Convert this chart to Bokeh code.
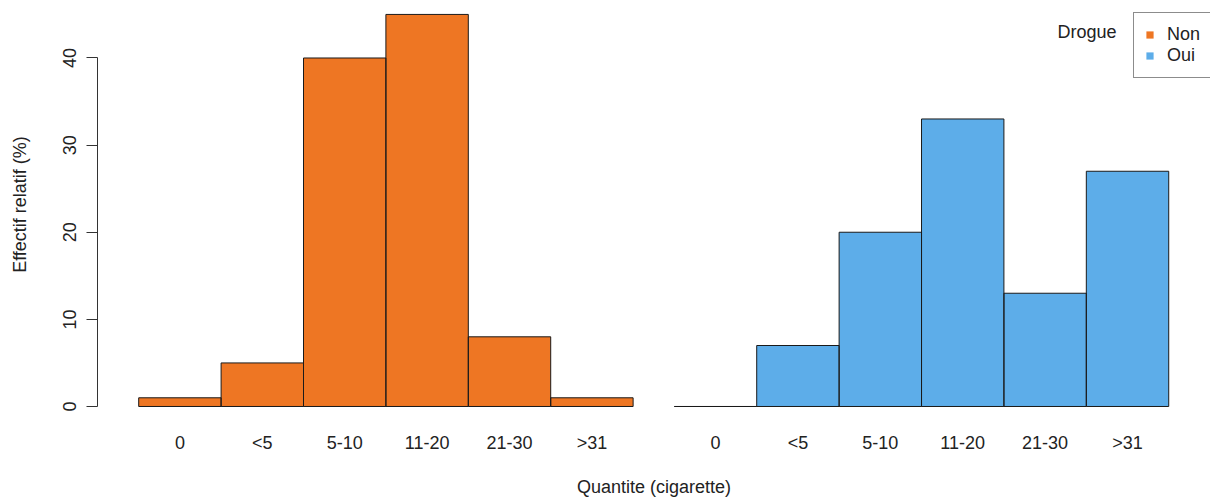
from bokeh.plotting import figure
from bokeh.models import Range1d, FixedTicker, Legend, LegendItem, Label, ColumnDataSource
from bokeh.embed import file_html
from bokeh.resources import INLINE

# ---- data ----
categories = ["0", "<5", "5-10", "11-20", "21-30", ">31"]
non_values = [1, 5, 40, 45, 8, 1]
oui_values = [0, 7, 20, 33, 13, 27]
groups = ["Non", "Oui"]
y_ticks = [0, 10, 20, 30, 40]

ORANGE = "#EE7623"
BLUE = "#5DADE9"
EDGE = "#1a1a1a"
TXT = "#222222"
FONT = "Liberation Sans"
FS = "18px"

GAP = 6.5  # offset of the second panel, in bar widths
x_non = [i for i in range(len(categories))]
x_oui = [i + GAP for i in range(len(categories))]

p = figure(width=1210, height=501, output_backend="svg", toolbar_location=None,
           x_range=Range1d(-1.0, 12.507), y_range=Range1d(-0.2296, 46.599),
           min_border_left=97, min_border_right=0, min_border_top=0,
           min_border_bottom=93)
p.outline_line_color = None
p.xgrid.visible = False
p.ygrid.visible = False
p.background_fill_color = "white"
p.border_fill_color = "white"

src_non = ColumnDataSource(dict(x=x_non, top=non_values))
src_oui = ColumnDataSource(dict(x=x_oui, top=oui_values))
# fills (also used as legend glyphs, without outline)
f_non = p.vbar(x="x", top="top", bottom=0, width=1, source=src_non,
               fill_color=ORANGE, line_alpha=0)
f_oui = p.vbar(x="x", top="top", bottom=0, width=1, source=src_oui,
               fill_color=BLUE, line_alpha=0)
# outlines
p.vbar(x="x", top="top", bottom=0, width=1, source=src_non,
       fill_alpha=0, line_color=EDGE, line_width=1)
p.vbar(x="x", top="top", bottom=0, width=1, source=src_oui,
       fill_alpha=0, line_color=EDGE, line_width=1)

# x axis
xa = p.xaxis[0]
xa.ticker = FixedTicker(ticks=x_non + x_oui)
overrides = {}
for xv, c in zip(x_non, categories):
    overrides[xv] = c
for xv, c in zip(x_oui, categories):
    overrides[xv] = c
xa.major_label_overrides = overrides
xa.axis_line_color = None
xa.major_tick_line_color = None
xa.minor_tick_line_color = None
xa.major_label_standoff = 18
xa.major_label_text_font = FONT
xa.major_label_text_font_size = FS
xa.major_label_text_color = TXT
xa.axis_label = "Quantite (cigarette)"
xa.axis_label_standoff = 21
xa.axis_label_text_font = FONT
xa.axis_label_text_font_size = FS
xa.axis_label_text_font_style = "normal"
xa.axis_label_text_color = TXT

# y axis
ya = p.yaxis[0]
ya.ticker = FixedTicker(ticks=y_ticks)
ya.bounds = (y_ticks[0], y_ticks[-1])
ya.major_label_orientation = "vertical"
ya.major_tick_out = 11
ya.major_tick_in = 0
ya.minor_tick_line_color = None
ya.axis_line_color = "#333333"
ya.major_tick_line_color = "#333333"
ya.major_label_standoff = 10
ya.major_label_text_font = FONT
ya.major_label_text_font_size = FS
ya.major_label_text_color = TXT
ya.axis_label = "Effectif relatif (%)"
ya.axis_label_standoff = 31
ya.axis_label_text_font = FONT
ya.axis_label_text_font_size = FS
ya.axis_label_text_font_style = "normal"
ya.axis_label_text_color = TXT

legend = Legend(items=[LegendItem(label=groups[0], renderers=[f_non]),
                       LegendItem(label=groups[1], renderers=[f_oui])],
                location=(1036, 330), padding=11, spacing=-7, label_height=10,
                glyph_width=9, glyph_height=9, label_standoff=13, margin=0,
                border_line_color=EDGE, border_line_width=1,
                label_text_font=FONT, label_text_font_size=FS,
                label_text_color=TXT, background_fill_alpha=1)
p.add_layout(legend)

p.add_layout(Label(x=960, y=377, x_units="screen", y_units="screen", text="Drogue",
                   text_baseline="alphabetic", text_font=FONT, text_font_size=FS,
                   text_color=TXT))

open("out.html", "w").write(file_html(p, INLINE))
